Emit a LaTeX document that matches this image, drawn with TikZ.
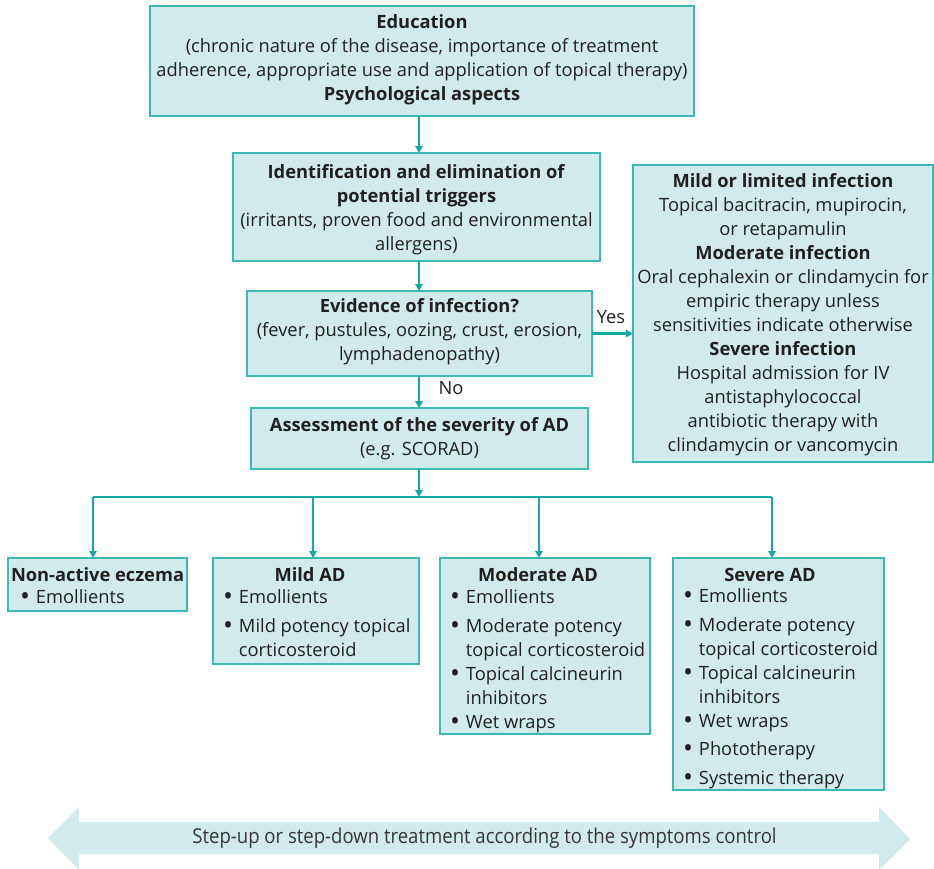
\documentclass[tikz,border=0pt]{standalone}
\usepackage{fontspec}
\setmainfont{Open Sans}
\usetikzlibrary{arrows.meta}
\definecolor{boxfill}{HTML}{D1EBEC}
\definecolor{boxedge}{HTML}{3DB9B5}
\definecolor{conncol}{HTML}{14A9A6}
\definecolor{ink}{HTML}{231F20}
\definecolor{bandfill}{HTML}{D1EBEC}
\newcommand{\ctext}[1]{\begin{tabular}[t]{@{}c@{}}#1\end{tabular}}
\newcommand{\ltext}[1]{\begin{tabular}[t]{@{}l@{\hspace{6pt}}l@{}}#1\end{tabular}}
\newcommand{\bul}{\raisebox{-0.22ex}{\scalebox{1.45}{\textbullet}}}
\tikzset{
 panel/.style={draw=boxedge, line width=1.4pt, fill=boxfill, anchor=north west, inner sep=0pt, outer sep=0pt},
 txt/.style={inner sep=0pt, outer sep=0pt, anchor=base, text=ink},
 ltxt/.style={txt, anchor=base west},
 conn/.style={draw=conncol, line width=2.2pt, -{Triangle[length=7pt,width=7.5pt]}},
 connline/.style={draw=conncol, line width=2.2pt},
}
\begin{document}
\begin{tikzpicture}[x=1pt,y=-1pt,font=\fontsize{18.3}{24}\selectfont]
\useasboundingbox (0,0) rectangle (934,868);
% boxes
\node[panel, minimum width=544pt, minimum height=110pt] (edu) at (150,6) {};
\node[txt] (edut) at (422,28) {\ctext{\textbf{Education}\\(chronic nature of the disease, importance of treatment\\adherence, appropriate use and application of topical therapy)\\\textbf{Psychological aspects}}};
\node[panel, minimum width=367pt, minimum height=108pt] (ident) at (233,153) {};
\node[txt] (identt) at (416.5,178) {\ctext{\textbf{Identification and elimination of}\\\textbf{potential triggers}\\(irritants, proven food and environmental\\allergens)}};
\node[panel, minimum width=345pt, minimum height=85pt] (evid) at (247,291) {};
\node[txt] (evidt) at (419.5,312) {\ctext{\textbf{Evidence of infection?}\\(fever, pustules, oozing, crust, erosion,\\lymphadenopathy)}};
\node[panel, minimum width=337pt, minimum height=61pt] (assess) at (251,408) {};
\node[txt] (assesst) at (419.5,431) {\ctext{\textbf{Assessment of the severity of AD}\\(e.g. SCORAD)}};
\node[panel, minimum width=300pt, minimum height=297pt] (infect) at (633,165) {};
\node[txt] (infectt) at (783,187) {\ctext{\textbf{Mild or limited infection}\\Topical bacitracin, mupirocin,\\or retapamulin\\\textbf{Moderate infection}\\Oral cephalexin or clindamycin for\\empiric therapy unless\\sensitivities indicate otherwise\\\textbf{Severe infection}\\Hospital admission for IV\\antistaphylococcal\\antibiotic therapy with\\clindamycin or vancomycin}};
% severity boxes
\node[panel, minimum width=179pt, minimum height=53pt] (nonact) at (8,558) {};
\node[ltxt] (nonactt) at (11,581) {\textbf{Non-active eczema}};
\node[ltxt] (nonactl) at (20,603) {\ltext{\bul & Emollients}};
\node[panel, minimum width=206pt, minimum height=106pt] (mild) at (213,558) {};
\node[txt] (mildt) at (310,581) {\textbf{Mild AD}};
\node[ltxt] (mildl) at (223,603) {\ltext{\bul & Emollients\\[5pt]\bul & Mild potency topical\\ & corticosteroid}};
\node[panel, minimum width=210pt, minimum height=176pt] (mod) at (440,558) {};
\node[txt] (modt) at (538,581) {\textbf{Moderate AD}};
\node[ltxt] (modl) at (450,603) {\ltext{\bul & Emollients\\[5pt]\bul & Moderate potency\\ & topical corticosteroid\\\bul & Topical calcineurin\\ & inhibitors\\\bul & Wet wraps}};
\node[panel, minimum width=211pt, minimum height=232pt] (sev) at (673,558) {};
\node[txt] (sevt) at (770,581) {\textbf{Severe AD}};
\node[ltxt] (sevl) at (683,602) {\ltext{\bul & Emollients\\[5pt]\bul & Moderate potency\\ & topical corticosteroid\\\bul & Topical calcineurin\\ & inhibitors\\\bul & Wet wraps\\[4pt]\bul & Phototherapy\\[5pt]\bul & Systemic therapy}};
% connectors
\coordinate (spine) at (419,0);
\draw[conn] (spine |- edu.south) -- (spine |- ident.north);
\draw[conn] (spine |- ident.south) -- (spine |- evid.north);
\draw[conn] (spine |- evid.south) -- (spine |- assess.north);
\draw[conn] (evid.east) -- (infect.west |- evid.east);
\node[txt] (yes) at (611,323) {Yes};
\node[txt] (no) at (451,394) {No};
\coordinate (bus) at (419,497);
\coordinate (bus1) at (93,497);
\coordinate (bus2) at (313,497);
\coordinate (bus3) at (539,497);
\coordinate (bus4) at (772,497);
\draw[connline] (bus1) -- (bus4);
\draw[conn] (spine |- assess.south) -- (bus);
\draw[conn] (bus1) -- (bus1 |- nonact.north);
\draw[conn] (bus2) -- (bus2 |- mild.north);
\draw[conn] (bus3) -- (bus3 |- mod.north);
\draw[conn] (bus4) -- (bus4 |- sev.north);
% bottom band
\fill[bandfill] (48,838) -- (79,807) -- (79,822) -- (879,822) -- (879,807) -- (910,839) -- (879,870) -- (879,854) -- (79,854) -- (79,870) -- cycle;
\node[txt, anchor=center, text=ink!90] (band) at (484.5,838) {\addfontfeature{FakeStretch=0.905}\fontsize{20.5}{22}\selectfont Step-up or step-down treatment according to the symptoms control};
\end{tikzpicture}
\end{document}
